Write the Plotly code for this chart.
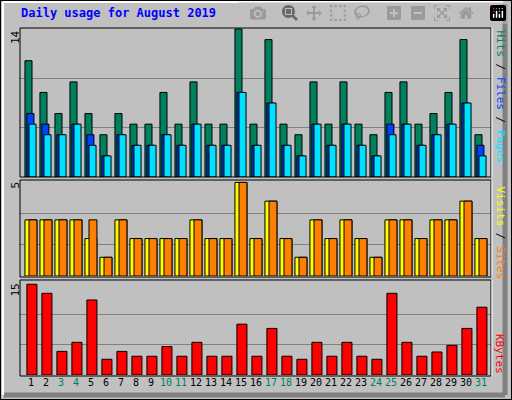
import plotly.graph_objects as go

days = list(range(1, 32))
hits = [11, 8, 6, 9, 6, 4, 6, 5, 5, 8, 5, 9, 5, 5, 14, 5, 13, 5, 4, 9, 5, 9, 5, 4, 8, 9, 5, 6, 8, 13, 4]
files = [6, 5, 4, 5, 4, 2, 4, 3, 3, 4, 3, 5, 3, 3, 8, 3, 7, 3, 2, 5, 3, 5, 3, 2, 5, 5, 3, 4, 5, 7, 3]
pages = [5, 4, 4, 5, 3, 2, 4, 3, 3, 4, 3, 5, 3, 3, 8, 3, 7, 3, 2, 5, 3, 5, 3, 2, 4, 5, 3, 4, 5, 7, 2]
visits = [3, 3, 3, 3, 2, 1, 3, 2, 2, 2, 2, 3, 2, 2, 5, 2, 4, 2, 1, 3, 2, 3, 2, 1, 3, 3, 2, 3, 3, 4, 2]
sites = [3, 3, 3, 3, 3, 1, 3, 2, 2, 2, 2, 3, 2, 2, 5, 2, 4, 2, 1, 3, 2, 3, 2, 1, 3, 3, 2, 3, 3, 4, 2]
kbytes = [15.0, 13.5, 3.9, 5.4, 12.4, 2.6, 3.9, 3.1, 3.1, 4.7, 3.1, 5.4, 3.1, 3.1, 8.4, 3.1,
          7.7, 3.1, 2.6, 5.4, 3.1, 5.4, 3.1, 2.6, 13.5, 5.4, 3.1, 3.8, 4.9, 7.7, 11.2]
weekend = [3, 4, 10, 11, 17, 18, 24, 25, 31]
max_top, max_mid, max_bot = 14, 5, 15

W, H = 512, 400
px = lambda x: x / W
py = lambda y: 1 - y / H
FONT = "DejaVu Sans Mono"
line = dict(color="black", width=1)

fig = go.Figure()


def bar(y, color, yaxis, offset, width):
    fig.add_trace(go.Bar(x=days, y=y, yaxis=yaxis, marker=dict(color=color, line=line),
                         offset=offset, width=width, showlegend=False, hoverinfo="skip"))


bar(hits, "#00805C", "y", -0.4, 0.47)
bar(files, "#0040FF", "y", -0.27, 0.47)
bar(pages, "#00E0FF", "y", -0.13, 0.47)
bar(visits, "#FFFF00", "y2", -0.4, 0.8)
bar(sites, "#FF8000", "y2", -0.13, 0.53)
bar(kbytes, "#FF0000", "y3", -0.27, 0.67)

xdom = [px(20), px(491)]
ticktext = ["<span style='color:%s'>%d</span>" % ("#00805C" if d in weekend else "black", d) for d in days]
grid = dict(showgrid=True, gridcolor="#808080", gridwidth=1, showticklabels=False, zeroline=False,
            showline=False, fixedrange=True)
fig.update_layout(
    width=W, height=H, margin=dict(l=0, r=0, t=0, b=0),
    paper_bgcolor="#C0C0C0", plot_bgcolor="#C0C0C0", barmode="overlay",
    font=dict(family=FONT, size=11, color="black"),
    xaxis=dict(domain=xdom, range=[0.27, 31.67], anchor="y3", tickvals=days, ticktext=ticktext,
               showgrid=False, ticks="", showline=False, tickangle=0, tickfont=dict(size=10)),
    yaxis=dict(domain=[py(177), py(28)], range=[0, max_top * 148 / 147], tickvals=[max_top / 3, max_top * 2 / 3], **grid),
    yaxis2=dict(domain=[py(276), py(180)], range=[0, 5.13], tickvals=[max_mid / 3, max_mid * 2 / 3], **grid),
    yaxis3=dict(domain=[py(375), py(280)], range=[0, 15.7], tickvals=[max_bot / 3, max_bot * 2 / 3], **grid),
)

shapes = [
    dict(type="rect", xref="paper", yref="paper", x0=0, x1=1, y0=0, y1=1, line=dict(color="black", width=2)),
    dict(type="line", xref="paper", yref="paper", x0=px(505), x1=px(505), y0=py(395), y1=py(4), line=dict(color="#808080", width=5)),
    dict(type="line", xref="paper", yref="paper", x0=px(4), x1=px(505), y0=py(395), y1=py(395), line=dict(color="#808080", width=5)),
    dict(type="line", xref="paper", yref="paper", x0=px(3), x1=px(3), y0=py(395), y1=py(2), line=dict(color="white", width=2)),
    dict(type="line", xref="paper", yref="paper", x0=px(3), x1=px(503), y0=py(2), y1=py(2), line=dict(color="white", width=2)),
]
for top, bot in [(28, 177), (180, 277), (280, 376)]:
    shapes.append(dict(type="rect", xref="paper", yref="paper", x0=px(20), x1=px(491), y0=py(bot), y1=py(top),
                       line=dict(color="black", width=1), layer="above"))
    shapes.append(dict(type="line", xref="paper", yref="paper", x0=px(492), x1=px(492), y0=py(bot), y1=py(top),
                       line=dict(color="white", width=1), layer="above"))
fig.update_layout(shapes=shapes)

ann = [
    dict(x=px(19), y=py(4), text="<b>Daily usage for August 2019</b>", xanchor="left", yanchor="top",
         font=dict(color="#0000FF", size=12)),
    dict(x=px(15), y=py(28), text=str(max_top), textangle=-90, xanchor="center", yanchor="top"),
    dict(x=px(15), y=py(180), text=str(max_mid), textangle=-90, xanchor="center", yanchor="top"),
    dict(x=px(15), y=py(282), text=str(max_bot), textangle=-90, xanchor="center", yanchor="top"),
    dict(x=px(500), y=py(28), textangle=90, xanchor="center", yanchor="top",
         text="<span style='color:#00805C'>Hits</span> / <span style='color:#0040FF'>Files</span> / <span style='color:#00E0FF'>Pages</span>"),
    dict(x=px(500), y=py(184), textangle=90, xanchor="center", yanchor="top",
         text="<span style='color:#FFFF00'>Visits</span> / <span style='color:#FF8000'>Sites</span>"),
    dict(x=px(500), y=py(376), textangle=90, xanchor="center", yanchor="bottom",
         text="<span style='color:#FF0000'>KBytes</span>"),
]
for a in ann:
    a.update(xref="paper", yref="paper", showarrow=False)
fig.update_layout(annotations=ann)

fig.write_html("out.html", post_script="document.body.style.margin='0';")
